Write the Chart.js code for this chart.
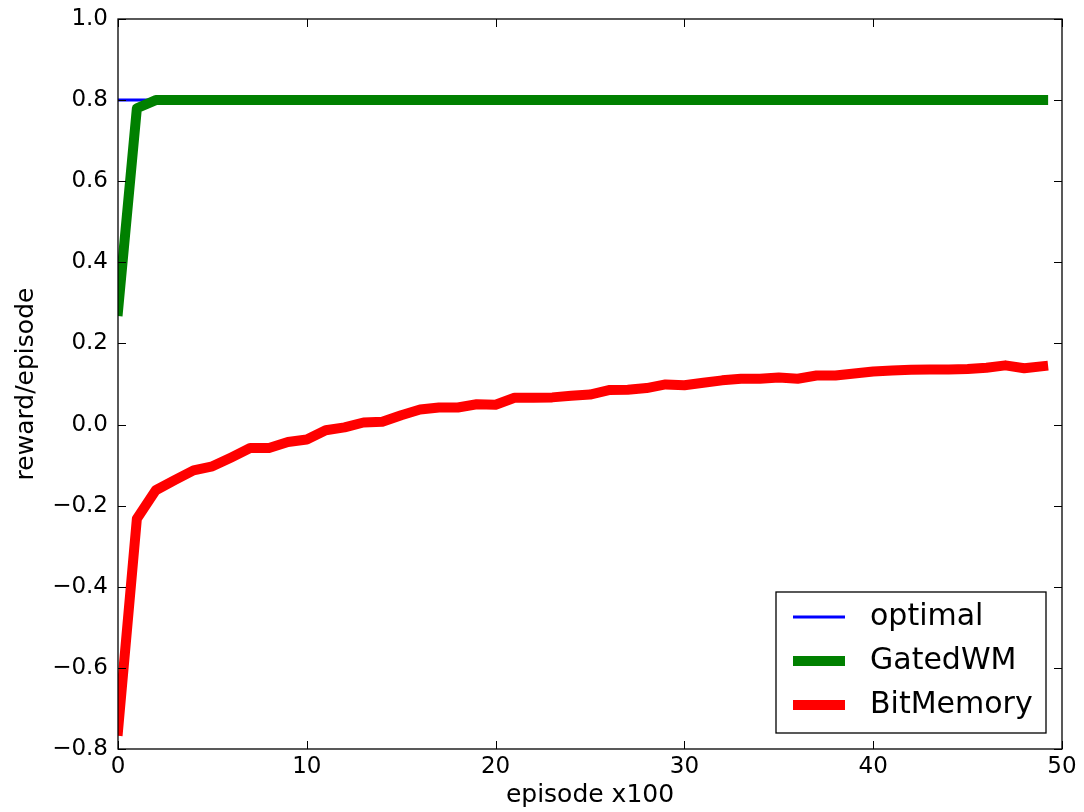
<!DOCTYPE html>
<html>
<head>
<meta charset="utf-8">
<script src="https://cdn.jsdelivr.net/npm/chart.js@4"></script>
<style>
  html, body { margin: 0; padding: 0; background: #fff; }
  #wrap { width: 1084px; height: 812px; }
</style>
</head>
<body>
<div id="wrap"><canvas id="chart" width="1084" height="812"></canvas></div>
<script>
// episodes (x100)
const episodes = [0,1,2,3,4,5,6,7,8,9,10,11,12,13,14,15,16,17,18,19,20,21,22,23,24,
    25,26,27,28,29,30,31,32,33,34,35,36,37,38,39,40,41,42,43,44,45,46,47,48,49];

const optimal = episodes.map(() => 0.8);

const gatedWM = [0.28, 0.78, 0.8, 0.8, 0.8, 0.8, 0.8, 0.8, 0.8, 0.8,
    0.8, 0.8, 0.8, 0.8, 0.8, 0.8, 0.8, 0.8, 0.8, 0.8,
    0.8, 0.8, 0.8, 0.8, 0.8, 0.8, 0.8, 0.8, 0.8, 0.8,
    0.8, 0.8, 0.8, 0.8, 0.8, 0.8, 0.8, 0.8, 0.8, 0.8,
    0.8, 0.8, 0.8, 0.8, 0.8, 0.8, 0.8, 0.8, 0.8, 0.8];

const bitMemory = [-0.755, -0.232, -0.162, -0.137, -0.113, -0.103, -0.081, -0.058, -0.058, -0.043,
    -0.037, -0.014, -0.007, 0.005, 0.007, 0.023, 0.037, 0.042, 0.042, 0.050,
    0.049, 0.066, 0.066, 0.067, 0.071, 0.074, 0.085, 0.086, 0.090, 0.099,
    0.097, 0.103, 0.109, 0.113, 0.113, 0.116, 0.113, 0.121, 0.121, 0.126,
    0.131, 0.133, 0.135, 0.136, 0.136, 0.137, 0.140, 0.146, 0.139, 0.144];

const xTicks = [0, 10, 20, 30, 40, 50];
const yTicks = [-0.8, -0.6, -0.4, -0.2, 0.0, 0.2, 0.4, 0.6, 0.8, 1.0];

const FONT = "'DejaVu Sans', sans-serif";

function pts(ys) {
    return episodes.map((x, i) => ({ x: x, y: ys[i] }));
}

function fmtY(v) {
    const s = v.toFixed(1);
    return s.replace("-", "\u2212");
}

// frame + inward ticks on all four sides, like matplotlib classic
const framePlugin = {
    id: "frame",
    afterDatasetsDraw(c) {
        const ctx = c.ctx;
        const a = c.chartArea;
        const xs = c.scales.x, ys = c.scales.y;
        const tl = 8;
        ctx.save();
        ctx.strokeStyle = "#000";
        ctx.lineWidth = 1;
        ctx.beginPath();
        xTicks.forEach(t => {
            const px = Math.round(xs.getPixelForValue(t)) + 0.5;
            ctx.moveTo(px, a.bottom); ctx.lineTo(px, a.bottom - tl);
            ctx.moveTo(px, a.top); ctx.lineTo(px, a.top + tl);
        });
        yTicks.forEach(t => {
            const py = Math.round(ys.getPixelForValue(t)) + 0.5;
            ctx.moveTo(a.left, py); ctx.lineTo(a.left + tl, py);
            ctx.moveTo(a.right, py); ctx.lineTo(a.right - tl, py);
        });
        ctx.stroke();
        ctx.lineWidth = 1.3;
        ctx.strokeRect(a.left, a.top, a.right - a.left, a.bottom - a.top);
        ctx.restore();
    }
};

// boxed legend in the lower right of the plot
const legendPlugin = {
    id: "boxLegend",
    afterDraw(c) {
        const ctx = c.ctx;
        const bx = 776, by = 592, bw = 270, bh = 141;
        ctx.save();
        ctx.fillStyle = "#fff";
        ctx.fillRect(bx, by, bw, bh);
        ctx.strokeStyle = "#000";
        ctx.lineWidth = 1.3;
        ctx.strokeRect(bx, by, bw, bh);
        ctx.font = "30px " + FONT;
        ctx.textBaseline = "middle";
        ctx.fillStyle = "#000";
        c.data.datasets.forEach((ds, i) => {
            const cy = 617 + i * 44;
            ctx.strokeStyle = ds.borderColor;
            ctx.lineWidth = ds.borderWidth;
            ctx.lineCap = "butt";
            ctx.beginPath();
            ctx.moveTo(793, cy);
            ctx.lineTo(845, cy);
            ctx.stroke();
            ctx.fillText(ds.label, 870, cy);
        });
        ctx.restore();
    }
};

const ctx = document.getElementById("chart");
const chart = new Chart(ctx, {
    type: "line",
    data: {
        datasets: [
            { label: "optimal", data: pts(optimal), borderColor: "#0000ff", borderWidth: 3, order: 3 },
            { label: "GatedWM", data: pts(gatedWM), borderColor: "#008000", borderWidth: 10, order: 2 },
            { label: "BitMemory", data: pts(bitMemory), borderColor: "#ff0000", borderWidth: 10, order: 1 }
        ]
    },
    options: {
        responsive: false,
        animation: false,
        datasets: {
            line: {
                pointRadius: 0,
                tension: 0,
                fill: false,
                clip: 0,
                borderCapStyle: "square",
                borderJoinStyle: "round"
            }
        },
        layout: { padding: { top: 19, right: 22, left: 0, bottom: 0 } },
        plugins: {
            legend: { display: false },
            tooltip: { enabled: false }
        },
        scales: {
            x: {
                type: "linear",
                min: 0,
                max: 50,
                afterFit: s => { s.height = 63; s.paddingLeft = 0; s.paddingRight = 0; },
                afterBuildTicks: s => { s.ticks = xTicks.map(v => ({ value: v })); },
                grid: { display: false, drawTicks: false },
                border: { display: false },
                ticks: {
                    padding: 4,
                    color: "#000",
                    font: { family: FONT, size: 23 },
                    callback: v => String(v),
                    maxRotation: 0
                },
                title: {
                    display: true,
                    text: "episode x100",
                    color: "#000",
                    font: { family: FONT, size: 25 },
                    padding: { top: 0, bottom: 2 }
                }
            },
            y: {
                type: "linear",
                min: -0.8,
                max: 1.0,
                afterFit: s => { s.width = 118; s.paddingTop = 0; s.paddingBottom = 0; },
                afterBuildTicks: s => { s.ticks = yTicks.map(v => ({ value: v })); },
                grid: { display: false, drawTicks: false },
                border: { display: false },
                ticks: {
                    padding: 10,
                    color: "#000",
                    font: { family: FONT, size: 23 },
                    callback: v => fmtY(v)
                },
                title: {
                    display: true,
                    text: "reward/episode",
                    color: "#000",
                    font: { family: FONT, size: 25 },
                    padding: { top: 11, bottom: 0 }
                }
            }
        }
    },
    plugins: [framePlugin, legendPlugin]
});
</script>
</body>
</html>
